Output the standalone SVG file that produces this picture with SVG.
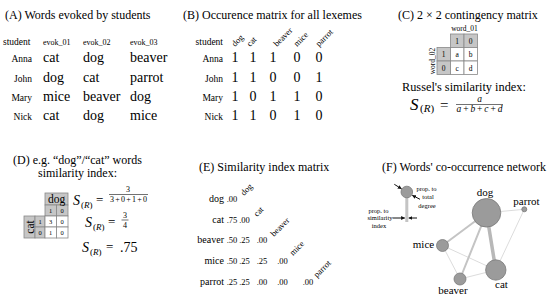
<svg xmlns="http://www.w3.org/2000/svg" width="550" height="299" viewBox="0 0 550 299" font-family="Liberation Serif">
<style>
.t{font-size:12px}
.s{font-size:9.5px}
.h{font-size:8px}
.w{font-size:14px}
.m{font-size:7.5px;text-anchor:middle}
.r{text-anchor:end}
.c{text-anchor:middle}
.i{font-style:italic}
.g{fill:#c6c6c6;stroke:#888;stroke-width:0.8}
.wc{fill:#fff;stroke:#888;stroke-width:0.8}
.v{font-size:8.5px;text-anchor:middle}
.rl{font-size:8.5px}
.e{stroke-linecap:round;fill:none}
.n{fill:#9b9b9b;stroke:#7a7a7a;stroke-width:0.8}
.lg{font-size:6.5px;text-anchor:middle}
.fl{font-size:11px;text-anchor:middle}
.ar{stroke:#111;stroke-width:1;fill:none}
</style>
<defs>
<marker id="ah" viewBox="0 0 6 6" refX="5.5" refY="3" markerWidth="4" markerHeight="4" orient="auto">
<path d="M0,0 L6,3 L0,6 z" fill="#111"/>
</marker>
</defs>

<g id="panelA">
<text font-family="Liberation Serif" class="t" x="5" y="19">(A) Words evoked by students</text>
<text font-family="Liberation Serif" class="s" x="3" y="45">student</text>
<text font-family="Liberation Serif" class="h" x="43" y="45">evok_01</text>
<text font-family="Liberation Serif" class="h" x="83" y="45">evok_02</text>
<text font-family="Liberation Serif" class="h" x="130" y="45">evok_03</text>
<text font-family="Liberation Serif" class="s r" x="32" y="62">Anna</text>
<text font-family="Liberation Serif" class="s r" x="32" y="81.5">John</text>
<text font-family="Liberation Serif" class="s r" x="32" y="101">Mary</text>
<text font-family="Liberation Serif" class="s r" x="32" y="120">Nick</text>
<text font-family="Liberation Serif" class="w" x="43" y="62">cat</text><text font-family="Liberation Serif" class="w" x="83" y="62">dog</text><text font-family="Liberation Serif" class="w" x="130" y="62">beaver</text>
<text font-family="Liberation Serif" class="w" x="43" y="81.5">dog</text><text font-family="Liberation Serif" class="w" x="83" y="81.5">cat</text><text font-family="Liberation Serif" class="w" x="130" y="81.5">parrot</text>
<text font-family="Liberation Serif" class="w" x="43" y="101">mice</text><text font-family="Liberation Serif" class="w" x="83" y="101">beaver</text><text font-family="Liberation Serif" class="w" x="130" y="101">dog</text>
<text font-family="Liberation Serif" class="w" x="43" y="120">cat</text><text font-family="Liberation Serif" class="w" x="83" y="120">dog</text><text font-family="Liberation Serif" class="w" x="130" y="120">mice</text>
</g>

<g id="panelB">
<text font-family="Liberation Serif" class="t" x="183" y="19">(B) Occurence matrix for all lexemes</text>
<text font-family="Liberation Serif" class="s r" x="223" y="45">student</text>
<text font-family="Liberation Serif" class="rl" transform="translate(235,47) rotate(-45)">dog</text>
<text font-family="Liberation Serif" class="rl" transform="translate(250,47) rotate(-45)">cat</text>
<text font-family="Liberation Serif" class="rl" transform="translate(277,47) rotate(-45)">beaver</text>
<text font-family="Liberation Serif" class="rl" transform="translate(297,47) rotate(-45)">mice</text>
<text font-family="Liberation Serif" class="rl" transform="translate(319,47) rotate(-45)">parrot</text>
<text font-family="Liberation Serif" class="s r" x="223" y="62">Anna</text>
<text font-family="Liberation Serif" class="s r" x="223" y="81.5">John</text>
<text font-family="Liberation Serif" class="s r" x="223" y="101">Mary</text>
<text font-family="Liberation Serif" class="s r" x="223" y="120">Nick</text>
<text font-family="Liberation Serif" class="w c" x="235" y="62">1</text><text font-family="Liberation Serif" class="w c" x="253" y="62">1</text><text font-family="Liberation Serif" class="w c" x="273" y="62">1</text><text font-family="Liberation Serif" class="w c" x="297" y="62">0</text><text font-family="Liberation Serif" class="w c" x="319" y="62">0</text>
<text font-family="Liberation Serif" class="w c" x="235" y="81.5">1</text><text font-family="Liberation Serif" class="w c" x="253" y="81.5">1</text><text font-family="Liberation Serif" class="w c" x="273" y="81.5">0</text><text font-family="Liberation Serif" class="w c" x="297" y="81.5">0</text><text font-family="Liberation Serif" class="w c" x="319" y="81.5">1</text>
<text font-family="Liberation Serif" class="w c" x="235" y="101">1</text><text font-family="Liberation Serif" class="w c" x="253" y="101">0</text><text font-family="Liberation Serif" class="w c" x="273" y="101">1</text><text font-family="Liberation Serif" class="w c" x="297" y="101">1</text><text font-family="Liberation Serif" class="w c" x="319" y="101">0</text>
<text font-family="Liberation Serif" class="w c" x="235" y="120">1</text><text font-family="Liberation Serif" class="w c" x="253" y="120">1</text><text font-family="Liberation Serif" class="w c" x="273" y="120">0</text><text font-family="Liberation Serif" class="w c" x="297" y="120">1</text><text font-family="Liberation Serif" class="w c" x="319" y="120">0</text>
</g>

<g id="panelC">
<text font-family="Liberation Serif" class="t" x="398" y="19">(C) 2 × 2 contingency matrix</text>
<text font-family="Liberation Serif" class="m" x="464.5" y="30.5">word_01</text>
<text font-family="Liberation Serif" class="m" transform="translate(434.5,61) rotate(-90)">word_02</text>
<rect class="g" x="450.5" y="34" width="13.5" height="13.5"/>
<rect class="g" x="464" y="34" width="13.5" height="13.5"/>
<rect class="g" x="437" y="47.5" width="13.5" height="13.5"/>
<rect class="g" x="437" y="61" width="13.5" height="13.5"/>
<rect class="wc" x="450.5" y="47.5" width="13.5" height="13.5"/>
<rect class="wc" x="464" y="47.5" width="13.5" height="13.5"/>
<rect class="wc" x="450.5" y="61" width="13.5" height="13.5"/>
<rect class="wc" x="464" y="61" width="13.5" height="13.5"/>
<text font-family="Liberation Serif" class="m" x="457.2" y="43.5">1</text><text font-family="Liberation Serif" class="m" x="470.7" y="43.5">0</text>
<text font-family="Liberation Serif" class="m" x="443.7" y="57">1</text><text font-family="Liberation Serif" class="m" x="457.2" y="57">a</text><text font-family="Liberation Serif" class="m" x="470.7" y="57">b</text>
<text font-family="Liberation Serif" class="m" x="443.7" y="70.5">0</text><text font-family="Liberation Serif" class="m" x="457.2" y="70.5">c</text><text font-family="Liberation Serif" class="m" x="470.7" y="70.5">d</text>
<text font-family="Liberation Serif" x="402" y="91" font-size="12.3">Russel's similarity index:</text>
<text font-family="Liberation Serif" class="i" x="410" y="110" font-size="17">S</text>
<text font-family="Liberation Serif" x="420" y="112" font-size="11">(<tspan class="i">R</tspan>)</text>
<text font-family="Liberation Serif" x="440" y="110" font-size="15">=</text>
<text font-family="Liberation Serif" class="i c" x="479.5" y="102" font-size="9.5">a</text>
<line x1="456" y1="104.5" x2="503" y2="104.5" stroke="#111" stroke-width="0.6"/>
<text font-family="Liberation Serif" class="c" x="479.5" y="112" font-size="9.5" textLength="46" lengthAdjust="spacing"><tspan class="i">a</tspan>+<tspan class="i">b</tspan>+<tspan class="i">c</tspan>+<tspan class="i">d</tspan></text>
</g>

<g id="panelD">
<text font-family="Liberation Serif" class="t" x="13" y="163.5">(D) e.g. “dog”/“cat” words</text>
<text font-family="Liberation Serif" class="t" x="38" y="177">similarity index:</text>
<rect class="g" x="45" y="193" width="23" height="12"/>
<rect class="g" x="45" y="205" width="11.5" height="11"/>
<rect class="g" x="56.5" y="205" width="11.5" height="11"/>
<rect class="g" x="24" y="216" width="11" height="22"/>
<rect class="g" x="35" y="216" width="10" height="11"/>
<rect class="g" x="35" y="227" width="10" height="11"/>
<rect class="wc" x="45" y="216" width="11.5" height="11"/>
<rect class="wc" x="56.5" y="216" width="11.5" height="11"/>
<rect class="wc" x="45" y="227" width="11.5" height="11"/>
<rect class="wc" x="56.5" y="227" width="11.5" height="11"/>
<text font-family="Liberation Serif" class="c" x="56.5" y="202.5" font-size="11.5">dog</text>
<text font-family="Liberation Serif" class="c" transform="translate(33.5,227) rotate(-90)" font-size="11.5">cat</text>
<text font-family="Liberation Serif" font-size="6.5" class="c" x="50.7" y="213">1</text><text font-family="Liberation Serif" font-size="6.5" class="c" x="62.2" y="213">0</text>
<text font-family="Liberation Serif" font-size="6.5" class="c" x="40" y="224">1</text><text font-family="Liberation Serif" font-size="6.5" class="c" x="50.7" y="224">3</text><text font-family="Liberation Serif" font-size="6.5" class="c" x="62.2" y="224">0</text>
<text font-family="Liberation Serif" font-size="6.5" class="c" x="40" y="235">0</text><text font-family="Liberation Serif" font-size="6.5" class="c" x="50.7" y="235">1</text><text font-family="Liberation Serif" font-size="6.5" class="c" x="62.2" y="235">0</text>
<text font-family="Liberation Serif" class="i" x="73" y="205" font-size="14">S</text>
<text font-family="Liberation Serif" x="81" y="207.5" font-size="9">(<tspan class="i">R</tspan>)</text>
<text font-family="Liberation Serif" x="96" y="204" font-size="13">=</text>
<text font-family="Liberation Serif" class="c" x="128" y="192" font-size="8">3</text>
<line x1="109" y1="194.5" x2="148" y2="194.5" stroke="#111" stroke-width="0.6"/>
<text font-family="Liberation Serif" class="c" x="128.5" y="201.5" font-size="8" textLength="37" lengthAdjust="spacing">3+0+1+0</text>
<text font-family="Liberation Serif" class="i" x="85" y="227" font-size="14">S</text>
<text font-family="Liberation Serif" x="93" y="229.5" font-size="9">(<tspan class="i">R</tspan>)</text>
<text font-family="Liberation Serif" x="108" y="226" font-size="13">=</text>
<text font-family="Liberation Serif" class="c" x="125" y="218" font-size="8">3</text>
<line x1="121.5" y1="220" x2="128.5" y2="220" stroke="#111" stroke-width="0.6"/>
<text font-family="Liberation Serif" class="c" x="125" y="227.5" font-size="8">4</text>
<text font-family="Liberation Serif" class="i" x="82" y="252" font-size="14">S</text>
<text font-family="Liberation Serif" x="90" y="254.5" font-size="9">(<tspan class="i">R</tspan>)</text>
<text font-family="Liberation Serif" x="106" y="251" font-size="13">=</text>
<text font-family="Liberation Serif" x="120" y="252" font-size="14">.75</text>
</g>

<g id="panelE">
<text font-family="Liberation Serif" class="t" x="199" y="171">(E) Similarity index matrix</text>
<text font-family="Liberation Serif" class="r" font-size="10" x="224" y="202">dog</text>
<text font-family="Liberation Serif" class="r" font-size="10" x="224" y="223">cat</text>
<text font-family="Liberation Serif" class="r" font-size="10" x="224" y="243">beaver</text>
<text font-family="Liberation Serif" class="r" font-size="10" x="224" y="263.5">mice</text>
<text font-family="Liberation Serif" class="r" font-size="10" x="224" y="284.5">parrot</text>
<text font-family="Liberation Serif" class="v" x="232" y="202">.00</text>
<text font-family="Liberation Serif" class="v" x="232" y="223">.75</text><text font-family="Liberation Serif" class="v" x="244.5" y="223">.00</text>
<text font-family="Liberation Serif" class="v" x="232" y="243">.50</text><text font-family="Liberation Serif" class="v" x="244.5" y="243">.25</text><text font-family="Liberation Serif" class="v" x="262" y="243">.00</text>
<text font-family="Liberation Serif" class="v" x="232" y="263.5">.50</text><text font-family="Liberation Serif" class="v" x="244.5" y="263.5">.25</text><text font-family="Liberation Serif" class="v" x="262" y="263.5">.25</text><text font-family="Liberation Serif" class="v" x="282.5" y="263.5">.00</text>
<text font-family="Liberation Serif" class="v" x="232" y="284.5">.25</text><text font-family="Liberation Serif" class="v" x="244.5" y="284.5">.25</text><text font-family="Liberation Serif" class="v" x="262" y="284.5">.00</text><text font-family="Liberation Serif" class="v" x="282.5" y="284.5">.00</text><text font-family="Liberation Serif" class="v" x="308" y="284.5">.00</text>
<text font-family="Liberation Serif" class="rl" transform="translate(244,196) rotate(-45)">dog</text>
<text font-family="Liberation Serif" class="rl" transform="translate(257,217) rotate(-45)">cat</text>
<text font-family="Liberation Serif" class="rl" transform="translate(274,237) rotate(-45)">beaver</text>
<text font-family="Liberation Serif" class="rl" transform="translate(293,256) rotate(-45)">mice</text>
<text font-family="Liberation Serif" class="rl" transform="translate(317,278) rotate(-45)">parrot</text>
</g>

<g id="panelF">
<text font-family="Liberation Serif" class="t" x="382" y="171">(F) Words' co-occurrence network</text>
<g id="connectors">
<line class="e" x1="486.5" y1="212.8" x2="524.3" y2="209.3" stroke="#dcdcdc" stroke-width="1"/>
<line class="e" x1="524.3" y1="209.3" x2="495.8" y2="270" stroke="#dcdcdc" stroke-width="1"/>
<line class="e" x1="442.5" y1="245.5" x2="495.8" y2="270" stroke="#dcdcdc" stroke-width="1"/>
<line class="e" x1="442.5" y1="245.5" x2="460" y2="279" stroke="#dcdcdc" stroke-width="1"/>
<line class="e" x1="460" y1="279" x2="495.8" y2="270" stroke="#dcdcdc" stroke-width="1"/>
<line class="e" x1="486.5" y1="212.8" x2="442.5" y2="245.5" stroke="#c4c4c4" stroke-width="2"/>
<line class="e" x1="486.5" y1="212.8" x2="460" y2="279" stroke="#c4c4c4" stroke-width="2"/>
<line class="e" x1="486.5" y1="212.8" x2="495.8" y2="270" stroke="#b8b8b8" stroke-width="3.5"/>
</g>
<g id="node-dog"><circle class="n" cx="486.5" cy="212.8" r="14.3"/><text font-family="Liberation Serif" class="fl" x="485" y="195.5">dog</text></g>
<g id="node-parrot"><circle class="n" cx="524.3" cy="209.3" r="2.5"/><text font-family="Liberation Serif" class="fl" x="526.5" y="204.5">parrot</text></g>
<g id="node-mice"><circle class="n" cx="442.5" cy="245.5" r="6"/><text font-family="Liberation Serif" class="fl" x="423.5" y="247.5">mice</text></g>
<g id="node-cat"><circle class="n" cx="495.8" cy="270" r="10.2"/><text font-family="Liberation Serif" class="fl" x="501.5" y="288">cat</text></g>
<g id="node-beaver"><circle class="n" cx="460" cy="279" r="6"/><text font-family="Liberation Serif" class="fl" x="453" y="294">beaver</text></g>
<g id="legend">
<rect x="405.3" y="192" width="3" height="30" fill="#c4c4c4"/>
<circle class="n" cx="406.8" cy="192" r="5.8"/>
<line class="ar" x1="394.3" y1="184.3" x2="401.5" y2="188.8" marker-end="url(#ah)"/>
<line class="ar" x1="420" y1="199.3" x2="412.3" y2="195.3" marker-end="url(#ah)"/>
<line class="ar" x1="392.5" y1="218" x2="404.8" y2="218" marker-end="url(#ah)"/>
<line class="ar" x1="417" y1="218" x2="408.8" y2="218" marker-end="url(#ah)"/>
<text font-family="Liberation Serif" class="lg" x="426.5" y="190.5">prop. to</text>
<text font-family="Liberation Serif" class="lg" x="428" y="199">total</text>
<text font-family="Liberation Serif" class="lg" x="427" y="207.5">degree</text>
<text font-family="Liberation Serif" class="lg" x="378.5" y="213">prop. to</text>
<text font-family="Liberation Serif" class="lg" x="380" y="220">similarity</text>
<text font-family="Liberation Serif" class="lg" x="379" y="228">index</text>
</g>
</g>
</svg>
